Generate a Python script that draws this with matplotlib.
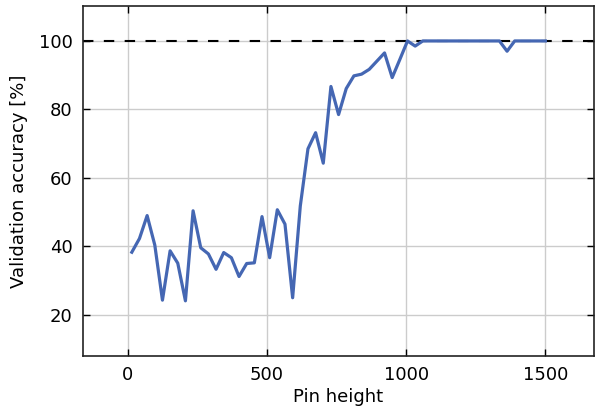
import matplotlib
matplotlib.use("Agg")
import matplotlib.pyplot as plt

# pin heights and validation accuracy
pin_height = [15, 42.5, 70, 97.5, 125, 152.5, 180, 207.5, 235, 262.5,
              290, 317.5, 345, 372.5, 400, 427.5, 455, 482.5, 510, 537.5,
              565, 592.5, 620, 647.5, 675, 702.5, 730, 757.5, 785, 812.5,
              840, 867.5, 895, 922.5, 950, 977.5, 1005, 1032.5, 1060, 1087.5,
              1115, 1142.5, 1170, 1197.5, 1225, 1252.5, 1280, 1307.5, 1335, 1362.5,
              1390, 1417.5, 1445, 1472.5, 1500]
accuracy = [38.3, 42.3, 49.0, 40.4, 24.3, 38.7, 35.1, 24.1, 50.4, 39.6,
            37.8, 33.3, 38.2, 36.7, 31.2, 35.0, 35.2, 48.7, 36.7, 50.7,
            46.5, 25.0, 51.8, 68.5, 73.2, 64.3, 86.7, 78.5, 86.1, 89.8,
            90.3, 91.7, 94.1, 96.5, 89.3, 94.6, 100, 98.5, 100, 100,
            100, 100, 100, 100, 100, 100, 100, 100, 100, 97.0,
            100, 100, 100, 100, 100]

plt.rcParams['font.family'] = ['DejaVu Sans']
plt.rcParams['font.size'] = 13

fig = plt.figure(figsize=(5.95, 4.12), dpi=100)
ax = fig.add_axes([0.1387, 0.136, 0.8593, 0.8494])

ax.grid(True, color="#cccccc", linewidth=1.0)
ax.set_axisbelow(True)
ax.axhline(100, color="black", linestyle="--", linewidth=1.5, dashes=(5, 5), zorder=2)
ax.plot(pin_height, accuracy, color="#4567b3", linewidth=2.3, zorder=3)

ax.set_xlim(-162, 1674)
ax.set_ylim(8, 110.2)
ax.set_xticks([0, 500, 1000, 1500])
ax.set_yticks([20, 40, 60, 80, 100])
ax.tick_params(direction="in", top=True, right=True, length=5, width=1, labelsize=13, pad=7)
for sp in ax.spines.values():
    sp.set_linewidth(1.2)
    sp.set_color("#222222")

ax.set_xlabel("Pin height", fontsize=13, labelpad=3)
ax.set_ylabel("Validation accuracy [%]", fontsize=13, labelpad=8)

fig.savefig("out.png", dpi=100)
